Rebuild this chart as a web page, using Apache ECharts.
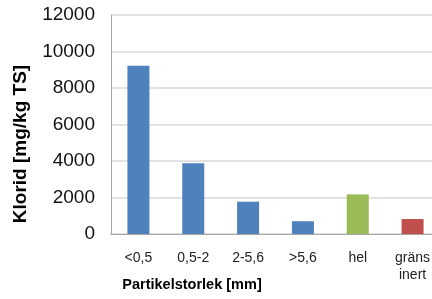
<!DOCTYPE html>
<html>
<head>
<meta charset="utf-8">
<script src="https://cdn.jsdelivr.net/npm/echarts@6/dist/echarts.min.js"></script>
<style>
  html, body { margin: 0; padding: 0; background: #fff; overflow: hidden; }
  #chart { width: 440px; height: 299px; }
</style>
</head>
<body>
<div id="chart"></div>
<script>
// kategorier och värden
var categories = ['<0,5', '0,5-2', '2-5,6', '>5,6', 'hel', 'gräns\ninert'];
var kloridValues = [9220, 3870, 1770, 700, 2170, 820];
var barColors = ['#4F81BD', '#4F81BD', '#4F81BD', '#4F81BD', '#9BBB59', '#C0504D'];
var yTicks = [0, 2000, 4000, 6000, 8000, 10000, 12000];

function kloridChart() {
  var chartDom = document.getElementById('chart');
  var kloridEChart = echarts.init(chartDom);

  var seriesData = kloridValues.map(function (v, i) {
    return { value: v, itemStyle: { color: barColors[i] } };
  });

  // diagrammet är bredare än fönstret, höger kant beskärs som i originalet
  var kloridOption = {
    animation: false,
    textStyle: { fontFamily: 'Liberation Sans, Arial, sans-serif' },
    grid: {
      left: 111,
      right: 0,
      top: 15,
      bottom: 65
    },
    xAxis: {
      type: 'category',
      data: categories,
      axisLine: { lineStyle: { color: '#a6a6a6', width: 1 } },
      axisTick: { show: false },
      axisLabel: {
        color: '#222',
        fontSize: 14,
        margin: 16,
        lineHeight: 17
      }
    },
    yAxis: {
      type: 'value',
      min: yTicks[0],
      max: yTicks[yTicks.length - 1],
      interval: 2000,
      axisLine: { show: true, lineStyle: { color: '#a6a6a6', width: 1 } },
      axisTick: { show: false },
      splitLine: { lineStyle: { color: '#d9d9d9', width: 1.5 } },
      axisLabel: {
        color: '#111',
        fontSize: 19,
        margin: 16,
        formatter: function (v) { return String(v); }
      }
    },
    graphic: [
      {
        type: 'text',
        x: 21,
        y: 144,
        rotation: Math.PI / 2,
        style: {
          text: 'Klorid [mg/kg TS]',
          fontSize: 19,
          fontWeight: 'bold',
          fontFamily: 'Liberation Sans, Arial, sans-serif',
          fill: '#000',
          align: 'center',
          verticalAlign: 'middle'
        }
      },
      {
        type: 'text',
        x: 192,
        y: 285,
        style: {
          text: 'Partikelstorlek [mm]',
          fontSize: 14.5,
          fontWeight: 'bold',
          fontFamily: 'Liberation Sans, Arial, sans-serif',
          fill: '#000',
          align: 'center',
          verticalAlign: 'middle'
        }
      }
    ],
    series: [{
      name: 'Klorid',
      type: 'bar',
      data: seriesData,
      barWidth: 22
    }]
  };

  kloridEChart.setOption(kloridOption, true);
}

kloridChart();
</script>
</body>
</html>
